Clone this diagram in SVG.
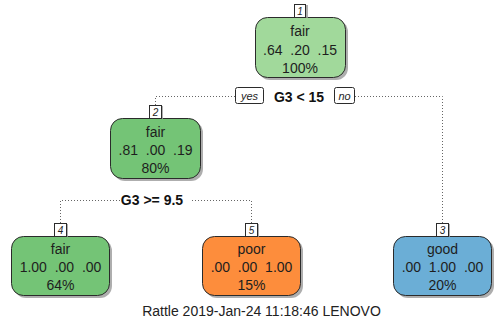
<svg xmlns="http://www.w3.org/2000/svg" width="496" height="322" viewBox="0 0 496 322">
  <style>
    .box { stroke: #2b2b2b; stroke-width: 1; }
    .shadow { fill: #9a9a9a; opacity: 0.8; }
    .txt { font-family: "Liberation Sans", Arial, sans-serif; font-size: 14px; fill: #1e1e1e; text-anchor: middle; white-space: pre; }
    .split { font-family: "Liberation Sans", Arial, sans-serif; font-size: 14px; font-weight: bold; fill: #111; text-anchor: middle; }
    .num { font-family: "Liberation Sans", Arial, sans-serif; font-size: 10px; font-style: italic; fill: #1e1e1e; text-anchor: middle; }
    .tag { font-family: "Liberation Sans", Arial, sans-serif; font-size: 11px; font-style: italic; fill: #1e1e1e; text-anchor: middle; }
    .numbox { fill: #fff; stroke: #2b2b2b; stroke-width: 1; }
    .edge { fill: none; stroke: #666; stroke-width: 1; stroke-dasharray: 1 2; }
    .footer { font-family: "Liberation Sans", Arial, sans-serif; font-size: 14px; fill: #222; text-anchor: middle; }
  </style>

  <rect width="496" height="322" fill="#ffffff"/>

  <!-- dotted branches -->
  <g id="connectors">
    <path class="edge" d="M155.5,105 V96.5 H235"/>
    <path class="edge" d="M355,96.5 H442.5 V223"/>
    <path class="edge" d="M60.5,223 V200.5 H120"/>
    <path class="edge" d="M192,200.5 H251.5 V223"/>
  </g>

  <!-- split labels -->
  <g id="split1">
    <rect class="numbox" x="235.5" y="87.5" width="28" height="16" rx="2"/>
    <text class="tag" x="249.5" y="99.5">yes</text>
    <text class="split" x="299" y="101.5">G3 &lt; 15</text>
    <rect class="numbox" x="334.5" y="87.5" width="20" height="16" rx="2"/>
    <text class="tag" x="344.5" y="99.5">no</text>
  </g>
  <g id="split2">
    <text class="split" x="152" y="204.5">G3 &gt;= 9.5</text>
  </g>

  <!-- node 1 -->
  <g id="node1">
    <rect class="shadow" x="258" y="20" width="90" height="60" rx="12"/>
    <rect class="box" x="255.5" y="17.5" width="90" height="60" rx="12" fill="#a1d99b"/>
    <rect class="shadow" x="296" y="5" width="12" height="13"/>
    <rect class="numbox" x="294.5" y="4.5" width="11" height="13"/>
    <text class="num" x="300" y="14.5">1</text>
    <text class="txt" x="300" y="36">fair</text>
    <text class="txt" x="300" y="55">.64  .20  .15</text>
    <text class="txt" x="300" y="73">100%</text>
  </g>

  <!-- node 2 -->
  <g id="node2">
    <rect class="shadow" x="113" y="121" width="90" height="60" rx="12"/>
    <rect class="box" x="110.5" y="118.5" width="90" height="60" rx="12" fill="#74c476"/>
    <rect class="shadow" x="151" y="106" width="12" height="13"/>
    <rect class="numbox" x="149.5" y="105.5" width="12" height="13"/>
    <text class="num" x="155.5" y="115.5">2</text>
    <text class="txt" x="155.5" y="137">fair</text>
    <text class="txt" x="155.5" y="155">.81  .00  .19</text>
    <text class="txt" x="155.5" y="173">80%</text>
  </g>

  <!-- node 4 -->
  <g id="node4">
    <rect class="shadow" x="14" y="239" width="98" height="59" rx="12"/>
    <rect class="box" x="11.5" y="236.5" width="98" height="59" rx="12" fill="#74c476"/>
    <rect class="shadow" x="56" y="224" width="12" height="13"/>
    <rect class="numbox" x="54.5" y="223.5" width="12" height="13"/>
    <text class="num" x="60.5" y="233.5">4</text>
    <text class="txt" x="60.5" y="254">fair</text>
    <text class="txt" x="60.5" y="272">1.00  .00  .00</text>
    <text class="txt" x="60.5" y="290">64%</text>
  </g>

  <!-- node 5 -->
  <g id="node5">
    <rect class="shadow" x="205" y="239" width="98" height="59" rx="12"/>
    <rect class="box" x="202.5" y="236.5" width="98" height="59" rx="12" fill="#fd8d3c"/>
    <rect class="shadow" x="247" y="224" width="12" height="13"/>
    <rect class="numbox" x="245.5" y="223.5" width="12" height="13"/>
    <text class="num" x="251.5" y="233.5">5</text>
    <text class="txt" x="251.5" y="254">poor</text>
    <text class="txt" x="251.5" y="272">.00  .00  1.00</text>
    <text class="txt" x="251.5" y="290">15%</text>
  </g>

  <!-- node 3 -->
  <g id="node3">
    <rect class="shadow" x="396" y="239" width="98" height="59" rx="12"/>
    <rect class="box" x="393.5" y="236.5" width="98" height="59" rx="12" fill="#6baed6"/>
    <rect class="shadow" x="438" y="224" width="12" height="13"/>
    <rect class="numbox" x="436.5" y="223.5" width="12" height="13"/>
    <text class="num" x="442.5" y="233.5">3</text>
    <text class="txt" x="442.5" y="254">good</text>
    <text class="txt" x="442.5" y="272">.00  1.00  .00</text>
    <text class="txt" x="442.5" y="290">20%</text>
  </g>

  <text class="footer" x="261.5" y="316">Rattle 2019-Jan-24 11:18:46 LENOVO</text>
</svg>
